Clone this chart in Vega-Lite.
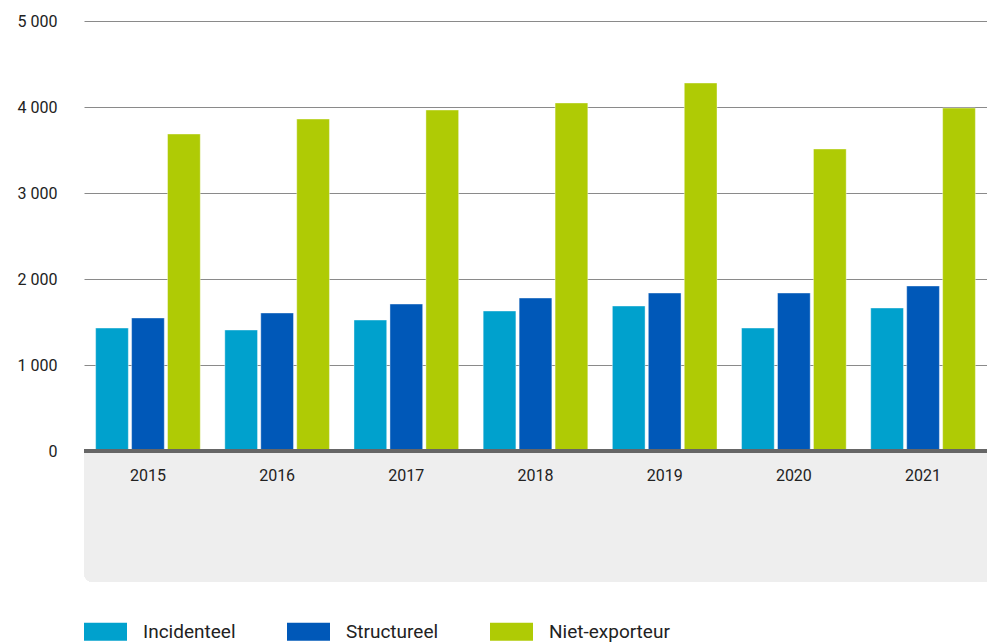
{
  "$schema": "https://vega.github.io/schema/vega-lite/v6.json",
  "autosize": "none",
  "width": 903,
  "height": 561,
  "padding": {"left": 84, "top": 21, "right": 0, "bottom": 61},
  "background": "white",
  "config": {
    "view": {"stroke": null},
    "font": "Roboto",
    "axis": {"labelFont": "Roboto", "labelColor": "#222222", "labelFontSize": 16}
  },
  "data": {
    "values": [
      {"jaar": "2015", "categorie": "Incidenteel", "waarde": 1430},
      {"jaar": "2015", "categorie": "Structureel", "waarde": 1547},
      {"jaar": "2015", "categorie": "Niet-exporteur", "waarde": 3686},
      {"jaar": "2016", "categorie": "Incidenteel", "waarde": 1407},
      {"jaar": "2016", "categorie": "Structureel", "waarde": 1605},
      {"jaar": "2016", "categorie": "Niet-exporteur", "waarde": 3860},
      {"jaar": "2017", "categorie": "Incidenteel", "waarde": 1523},
      {"jaar": "2017", "categorie": "Structureel", "waarde": 1709},
      {"jaar": "2017", "categorie": "Niet-exporteur", "waarde": 3965},
      {"jaar": "2018", "categorie": "Incidenteel", "waarde": 1628},
      {"jaar": "2018", "categorie": "Structureel", "waarde": 1779},
      {"jaar": "2018", "categorie": "Niet-exporteur", "waarde": 4047},
      {"jaar": "2019", "categorie": "Incidenteel", "waarde": 1686},
      {"jaar": "2019", "categorie": "Structureel", "waarde": 1837},
      {"jaar": "2019", "categorie": "Niet-exporteur", "waarde": 4279},
      {"jaar": "2020", "categorie": "Incidenteel", "waarde": 1430},
      {"jaar": "2020", "categorie": "Structureel", "waarde": 1837},
      {"jaar": "2020", "categorie": "Niet-exporteur", "waarde": 3512},
      {"jaar": "2021", "categorie": "Incidenteel", "waarde": 1663},
      {"jaar": "2021", "categorie": "Structureel", "waarde": 1919},
      {"jaar": "2021", "categorie": "Niet-exporteur", "waarde": 3988}
    ]
  },
  "layer": [
    {
      "mark": {"type": "rect", "color": "#eeeeee", "cornerRadiusBottomLeft": 9},
      "encoding": {
        "x": {"value": 0},
        "x2": {"value": "width"},
        "y": {
          "datum": 0,
          "type": "quantitative",
          "scale": {"domain": [-1523, 5000], "nice": false, "zero": false},
          "axis": {
            "title": null,
            "values": [0, 1000, 2000, 3000, 4000, 5000],
            "labelExpr": "replace(format(datum.value, ','), ',', ' ')",
            "domain": false,
            "ticks": false,
            "grid": true,
            "labelPadding": 27,
            "gridColor": "#8a8a8a",
            "gridWidth": 1
          }
        },
        "y2": {"datum": -1523}
      }
    },
    {
      "mark": {"type": "bar", "stroke": "#ffffff", "strokeWidth": 0.8, "strokeOpacity": 0.5},
      "encoding": {
        "x": {
          "field": "jaar",
          "type": "ordinal",
          "scale": {"paddingInner": 0.19, "paddingOuter": 0.09},
          "axis": {
            "title": null,
            "orient": "bottom",
            "offset": -132,
            "domain": false,
            "ticks": false,
            "labelPadding": 17,
            "labelAngle": 0,
            "grid": false,
            "zindex": 2
          }
        },
        "xOffset": {
          "field": "categorie",
          "type": "nominal",
          "sort": ["Incidenteel", "Structureel", "Niet-exporteur"],
          "scale": {"paddingInner": 0.09, "paddingOuter": 0}
        },
        "y": {
          "field": "waarde",
          "type": "quantitative"
        },
        "color": {
          "field": "categorie",
          "type": "nominal",
          "sort": ["Incidenteel", "Structureel", "Niet-exporteur"],
          "scale": {
            "domain": ["Incidenteel", "Structureel", "Niet-exporteur"],
            "range": ["#00a1cd", "#0058b8", "#afcb05"]
          },
          "legend": {
            "title": null,
            "orient": "none",
            "legendX": 0,
            "legendY": 589,
            "direction": "horizontal",
            "symbolType": "M-1,-0.42H1V0.42H-1Z",
            "symbolSize": 1849,
            "symbolStrokeWidth": 0,
            "symbolOpacity": 1,
            "labelFont": "Roboto",
            "labelFontSize": 19,
            "labelColor": "#222222",
            "labelOffset": 16,
            "columnPadding": 51
          }
        }
      }
    },
    {
      "mark": {"type": "rule", "color": "#666666", "strokeWidth": 3},
      "encoding": {"y": {"datum": 0, "type": "quantitative"}}
    }
  ]
}
